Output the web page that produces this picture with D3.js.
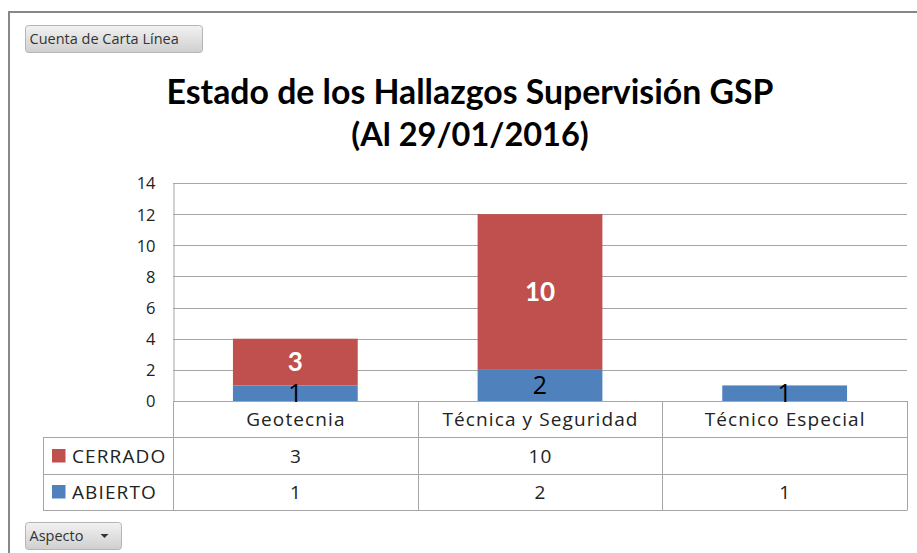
<!DOCTYPE html>
<html>
<head>
<meta charset="utf-8">
<script src="https://cdn.jsdelivr.net/npm/d3@7"></script>
<style>
html,body{margin:0;padding:0;background:#fff;}
svg{display:block;}
</style>
</head>
<body>
<svg id="chart" width="917" height="553"></svg>
<script>
const categories = ["Geotecnia", "Técnica y Seguridad", "Técnico Especial"];
const seriesNames = ["ABIERTO", "CERRADO"];
const abierto = [1, 2, 1];
const cerrado = [3, 10, null];
const yTicks = [0, 2, 4, 6, 8, 10, 12, 14];
const titleLines = ["Estado de los Hallazgos Supervisión GSP", "(Al 29/01/2016)"];
const colors = {ABIERTO: "#4F81BD", CERRADO: "#C0504D"};

const svg = d3.select("#chart");
const font = "Lato, 'Open Sans', sans-serif";
const bodyFont = "'Open Sans', sans-serif";
const ls = 1.1;

const defs = svg.append("defs");
const grad = defs.append("linearGradient").attr("id", "btn").attr("x1", 0).attr("y1", 0).attr("x2", 0).attr("y2", 1);
grad.append("stop").attr("offset", "0%").attr("stop-color", "#f2f2f2");
grad.append("stop").attr("offset", "100%").attr("stop-color", "#cfcfcf");

// outer frame
svg.append("path").attr("d", "M9,553 L9,12 L917,12").attr("fill", "none").attr("stroke", "#888").attr("stroke-width", 2);

function button(x, y, w, h, label, arrow) {
  const g = svg.append("g");
  g.append("rect").attr("x", x).attr("y", y).attr("width", w).attr("height", h).attr("rx", 3)
    .attr("fill", "url(#btn)").attr("stroke", "#b5b5b5");
  g.append("text").attr("x", x + 4).attr("y", y + h / 2 + 5).attr("font-family", bodyFont)
    .attr("font-size", 14.5).attr("fill", "#333").text(label);
  if (arrow) {
    const ax = x + w - 17, ay = y + h / 2 - 2;
    g.append("path").attr("d", `M${ax - 4},${ay} L${ax + 4},${ay} L${ax},${ay + 4} Z`).attr("fill", "#333");
  }
}
button(25.5, 25.5, 177, 27, "Cuenta de Carta Línea", false);
button(25.5, 522.5, 96, 27, "Aspecto", true);

// title
svg.append("text").attr("text-anchor", "middle").attr("font-family", font).attr("font-weight", "bold")
  .attr("fill", "#000")
  .selectAll("tspan").data(titleLines).join("tspan")
  .attr("x", 470).attr("y", (d, i) => 104 + i * 42)
  .attr("font-size", (d, i) => i === 0 ? 33.8 : 32.5).text(d => d);

// scales
const x0 = 173, x1 = 907;
const x = d3.scaleBand().domain(categories).range([x0, x1]).paddingInner(0.49).paddingOuter(0.245);
const xBand = d3.scaleBand().domain(categories).range([x0, x1]);
const y = d3.scaleLinear().domain([0, 14]).range([401, 183]);

// gridlines
svg.append("g").selectAll("line").data(yTicks).join("line")
  .attr("x1", x0).attr("x2", x1).attr("y1", d => Math.round(y(d)) + 0.5).attr("y2", d => Math.round(y(d)) + 0.5)
  .attr("stroke", "#a6a6a6").attr("stroke-width", 1);

// y axis
const yAxis = d3.axisLeft(y).tickValues(yTicks).tickSize(0).tickPadding(18);
const ya = svg.append("g").attr("transform", `translate(${x0 + 0.5},0)`).call(yAxis);
ya.select(".domain").attr("stroke", "#a6a6a6");
ya.selectAll("text").attr("font-family", bodyFont).attr("font-size", 16.5).attr("fill", "#222").attr("dy", "0.36em");

// stacked bars
const rows = categories.map((c, i) => ({cat: c, ABIERTO: abierto[i] || 0, CERRADO: cerrado[i] || 0}));
const stack = d3.stack().keys(seriesNames)(rows);
const layers = svg.append("g").selectAll("g").data(stack).join("g").attr("fill", d => colors[d.key]);
layers.selectAll("rect").data(d => d.filter(s => s[1] - s[0] > 0)).join("rect")
  .attr("x", d => x(d.data.cat)).attr("width", x.bandwidth())
  .attr("y", d => y(d[1])).attr("height", d => y(d[0]) - y(d[1]));

// data labels
stack.forEach(layer => {
  const isC = layer.key === "CERRADO";
  svg.append("g").selectAll("text").data(layer.filter(s => s[1] - s[0] > 0)).join("text")
    .attr("x", d => x(d.data.cat) + x.bandwidth() / 2)
    .attr("y", d => (y(d[0]) + y(d[1])) / 2 + 9)
    .attr("text-anchor", "middle")
    .attr("font-family", isC ? font : bodyFont)
    .attr("font-weight", isC ? "bold" : "normal")
    .attr("font-size", isC ? 26 : 25)
    .attr("fill", isC ? "#fff" : "#000")
    .text(d => d[1] - d[0]);
});

// data table
const tLeft = 43;
const tbl = svg.append("g").attr("stroke", "#a6a6a6").attr("fill", "none");
tbl.append("line").attr("x1", tLeft).attr("x2", x1).attr("y1", 437.5).attr("y2", 437.5);
tbl.append("line").attr("x1", tLeft).attr("x2", x1).attr("y1", 474.5).attr("y2", 474.5);
tbl.append("line").attr("x1", tLeft).attr("x2", x1).attr("y1", 510.5).attr("y2", 510.5);
tbl.append("line").attr("x1", tLeft + 0.5).attr("x2", tLeft + 0.5).attr("y1", 437.5).attr("y2", 510.5);
[x0, ...categories.map(c => xBand(c) + xBand.bandwidth())].forEach(v => {
  tbl.append("line").attr("x1", Math.round(v) + 0.5).attr("x2", Math.round(v) + 0.5).attr("y1", 401).attr("y2", 510.5);
});

function cellText(sel) {
  return sel.attr("font-family", bodyFont).attr("font-size", 19).attr("letter-spacing", ls).attr("fill", "#222");
}

// category labels
svg.append("g").selectAll("text").data(categories).join("text")
  .attr("x", d => xBand(d) + xBand.bandwidth() / 2 + ls / 2).attr("y", 426)
  .attr("text-anchor", "middle").call(cellText)
  .text(d => d);

// table rows
const tableRows = [{name: "CERRADO", vals: cerrado, y: 463}, {name: "ABIERTO", vals: abierto, y: 499}];
tableRows.forEach(r => {
  svg.append("rect").attr("x", 52).attr("y", r.y - 14).attr("width", 13.5).attr("height", 13.5).attr("fill", colors[r.name]);
  svg.append("text").attr("x", 72).attr("y", r.y).call(cellText).text(r.name);
  svg.append("g").selectAll("text").data(categories).join("text")
    .attr("x", d => xBand(d) + xBand.bandwidth() / 2 + ls / 2).attr("y", r.y)
    .attr("text-anchor", "middle").call(cellText)
    .text((d, i) => r.vals[i] == null ? "" : r.vals[i]);
});
</script>
</body>
</html>
